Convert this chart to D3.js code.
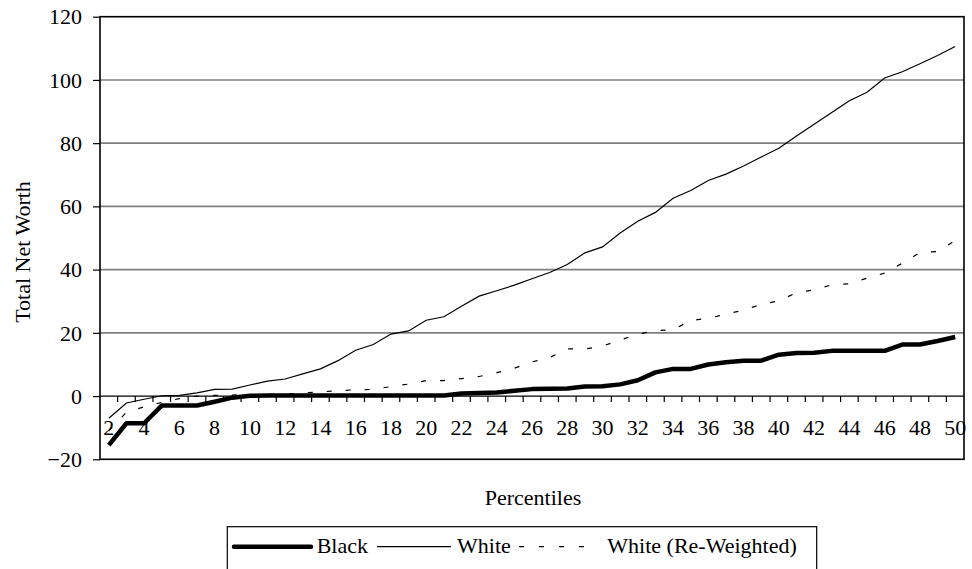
<!DOCTYPE html>
<html>
<head>
<meta charset="utf-8">
<script src="https://cdn.jsdelivr.net/npm/d3@7"></script>
<style>
	body{margin:0;background:#fff}
	svg text{fill:#000}
</style>
</head>
<body>
<div id="chart"></div>
<script>
let percentiles = [2,3,4,5,6,7,8,9,10,11,12,13,14,15,16,17,18,19,20,21,22,23,24,25,26,
	27,28,29,30,31,32,33,34,35,36,37,38,39,40,41,42,43,44,45,46,47,48,49,50]

let black = [-15.5,-8.6,-8.6,-3.0,-3.0,-3.0,-1.8,-0.5,0.1,0.2,
	0.2,0.2,0.2,0.2,0.2,0.2,0.2,0.2,0.2,0.2,
	0.8,1.0,1.1,1.7,2.2,2.3,2.4,3.0,3.1,3.7,
	5.0,7.5,8.6,8.6,10.0,10.7,11.2,11.2,13.1,13.6,
	13.7,14.3,14.3,14.3,14.3,16.3,16.3,17.4,18.7]

let white = [-7.0,-2.2,-1.0,0.1,0.2,1.0,2.1,2.2,3.5,4.7,
	5.4,7.0,8.6,11.2,14.5,16.3,19.6,20.6,24.0,25.1,
	28.4,31.6,33.3,35.1,37.1,39.1,41.6,45.3,47.2,51.6,
	55.3,58.1,62.6,65.0,68.2,70.2,72.8,75.6,78.4,82.3,
	86.0,89.7,93.4,96.1,100.6,102.6,105.1,107.7,110.6]

let whiteReweighted = [-11.0,-5.1,-3.4,-2.0,-0.8,0.0,0.2,0.3,0.5,0.5,
	0.6,1.0,1.3,1.7,2.0,2.1,3.0,3.8,4.9,4.9,
	5.5,6.2,7.4,8.8,10.8,12.2,14.9,14.9,15.8,17.7,
	19.6,20.7,21.0,23.9,24.6,25.9,27.2,29.0,30.1,32.7,
	33.6,35.2,35.5,37.3,38.9,42.0,45.4,45.7,49.2]

let seriesNames = ['Black','White','White (Re-Weighted)']
let yTicks = [-20,0,20,40,60,80,100,120]
let xLabels = [2,4,6,8,10,12,14,16,18,20,22,24,26,28,30,32,34,36,38,40,42,44,46,48,50]

let width = 972, height = 569
let plot = {left: 100, right: 964, top: 16.7, bottom: 459.3}
let fontSize = 22
// try every name a Times-like face might be installed under
let serif = "'Liberation Serif', 'Times New Roman', Tinos, 'Nimbus Roman', 'Nimbus Roman No9 L', FreeSerif, 'Noto Serif', 'DejaVu Serif', Times, serif"

let svg = d3.select('#chart')
	.append('svg')
	.attr('width', width)
	.attr('height', height)
	.attr('font-family', serif)
	.style('display','block')
	.style('font-size', fontSize + 'px')

let x = d3.scaleBand()
	.domain(percentiles)
	.range([plot.left, plot.right])
	.padding(0)

let y = d3.scaleLinear()
	.domain([-20, 120])
	.range([plot.bottom, plot.top])

let cx = function(d){ return x(d) + x.bandwidth()/2 }

// gray gridlines
svg.selectAll('.grid')
	.data(yTicks.filter(function(t){ return t > 0 && t < 120 }))
	.enter()
	.append('line')
	.attr('x1', plot.left)
	.attr('x2', plot.right)
	.attr('y1', function(d){ return y(d) })
	.attr('y2', function(d){ return y(d) })
	.attr('stroke', '#808080')
	.attr('stroke-width', 1.6)

// plot frame
svg.append('rect')
	.attr('x', plot.left)
	.attr('y', plot.top)
	.attr('width', plot.right - plot.left)
	.attr('height', plot.bottom - plot.top)
	.attr('fill', 'none')
	.attr('stroke', '#000')
	.attr('stroke-width', 1.6)

// y axis
let yAxis = svg.append('g')
	.attr('transform', 'translate(' + plot.left + ',0)')
	.call(d3.axisLeft(y).tickValues(yTicks).tickSize(7).tickPadding(11))
yAxis.attr('font-family', serif).attr('font-size', fontSize)
yAxis.select('.domain').remove()
yAxis.selectAll('line').attr('stroke', '#000').attr('stroke-width', 1.2)
yAxis.selectAll('text')
	.style('font-family', serif)
	.attr('dy', '0.33em')

// category axis sitting on zero
let y0 = y(0)
svg.append('line')
	.attr('x1', plot.left)
	.attr('x2', plot.right)
	.attr('y1', y0)
	.attr('y2', y0)
	.attr('stroke', '#000')
	.attr('stroke-width', 1.3)

svg.selectAll('.cattick')
	.data(percentiles.slice(1))
	.enter()
	.append('line')
	.attr('x1', function(d){ return x(d) })
	.attr('x2', function(d){ return x(d) })
	.attr('y1', y0)
	.attr('y2', y0 + 6)
	.attr('stroke', '#000')
	.attr('stroke-width', 1.2)

let xAxis = svg.append('g')
	.attr('transform', 'translate(0,' + y0 + ')')
	.call(d3.axisBottom(x).tickValues(xLabels).tickSize(0).tickPadding(23))
xAxis.attr('font-family', serif).attr('font-size', fontSize)
xAxis.select('.domain').remove()
xAxis.selectAll('text').style('font-family', serif)

// series lines
let line = function(values){
	return d3.line()
		.x(function(d,i){ return cx(percentiles[i]) })
		.y(function(d){ return y(d) })(values)
}

svg.append('path')
	.attr('d', line(whiteReweighted))
	.attr('fill', 'none')
	.attr('stroke', '#000')
	.attr('stroke-width', 1.2)
	.attr('stroke-dasharray', '5,14')

svg.append('path')
	.attr('d', line(white))
	.attr('fill', 'none')
	.attr('stroke', '#000')
	.attr('stroke-width', 1.2)

svg.append('path')
	.attr('d', line(black))
	.attr('fill', 'none')
	.attr('stroke', '#000')
	.attr('stroke-width', 4.5)
	.attr('stroke-linejoin', 'round')

// axis titles
svg.append('text')
	.attr('transform', 'translate(30,252) rotate(-90)')
	.attr('text-anchor', 'middle')
	.style('font-family', serif)
	.text('Total Net Worth')

svg.append('text')
	.attr('x', 533)
	.attr('y', 505)
	.attr('text-anchor', 'middle')
	.style('font-family', serif)
	.text('Percentiles')

// legend
let legend = svg.append('g')
legend.append('rect')
	.attr('x', 227.3)
	.attr('y', 526.7)
	.attr('width', 589.4)
	.attr('height', 60)
	.attr('fill', '#fff')
	.attr('stroke', '#000')
	.attr('stroke-width', 1.2)

let legendItems = [
	{name: seriesNames[0], x1: 234, x2: 311, tx: 316.7, w: 4.5, dash: null},
	{name: seriesNames[1], x1: 377, x2: 451, tx: 457, w: 1.2, dash: null},
	{name: seriesNames[2], x1: 519, x2: 596, tx: 607.3, w: 1.2, dash: '5,15'}
]

legendItems.forEach(function(d){
	legend.append('line')
		.attr('x1', d.x1)
		.attr('x2', d.x2)
		.attr('y1', 546.7)
		.attr('y2', 546.7)
		.attr('stroke', '#000')
		.attr('stroke-width', d.w)
		.attr('stroke-dasharray', d.dash)
		.attr('stroke-linecap', d.w > 2 ? 'round' : 'butt')
	legend.append('text')
		.attr('x', d.tx)
		.attr('y', 552.7)
		.style('font-family', serif)
		.text(d.name)
})
</script>
</body>
</html>
